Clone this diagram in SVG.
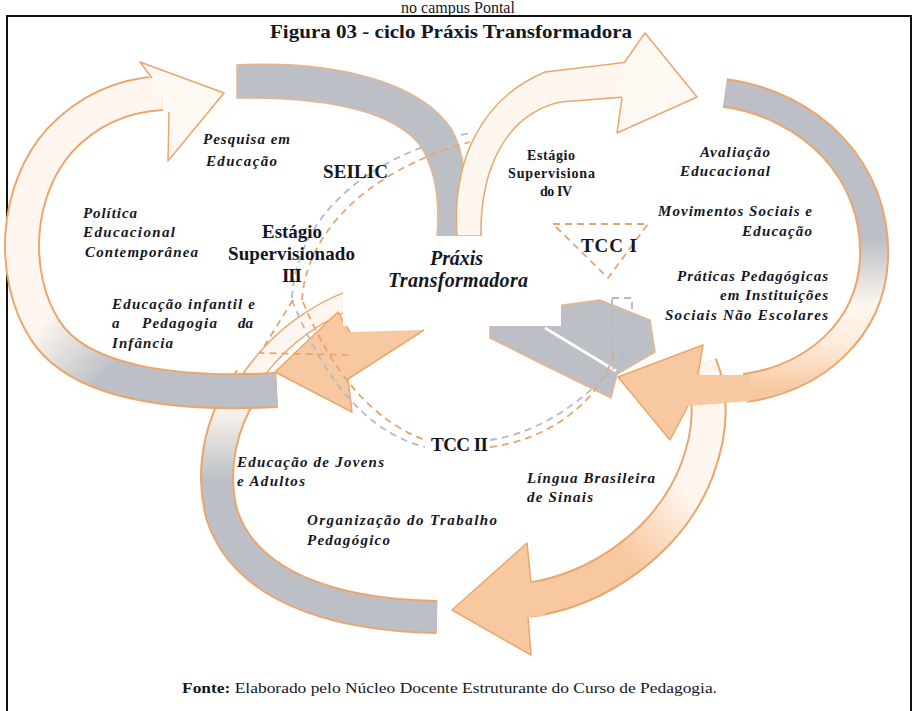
<svg xmlns="http://www.w3.org/2000/svg" width="915" height="711" viewBox="0 0 915 711">
<defs>
<linearGradient id="gA" gradientUnits="userSpaceOnUse" x1="200" y1="420" x2="60" y2="300"><stop offset="0" stop-color="#BCC0C6"/><stop offset="0.55" stop-color="#BCC0C6"/><stop offset="1" stop-color="#FFF7EF"/></linearGradient>
<linearGradient id="gBR" gradientUnits="userSpaceOnUse" x1="800" y1="90" x2="800" y2="390"><stop offset="0" stop-color="#BCC0C6"/><stop offset="0.5" stop-color="#BCC0C6"/><stop offset="0.72" stop-color="#FFF7EF"/><stop offset="0.85" stop-color="#FDEBDA"/><stop offset="1" stop-color="#F8C9A0"/></linearGradient>
<linearGradient id="gCR" gradientUnits="userSpaceOnUse" x1="530" y1="600" x2="705" y2="420"><stop offset="0" stop-color="#F8C9A0"/><stop offset="0.4" stop-color="#F8C9A0"/><stop offset="0.75" stop-color="#FFF7EF"/></linearGradient>
<linearGradient id="gCL" gradientUnits="userSpaceOnUse" x1="300" y1="480" x2="300" y2="405"><stop offset="0" stop-color="#BCC0C6"/><stop offset="1" stop-color="#FFF7EF"/></linearGradient>
</defs>
<style>
.ol{fill:none;stroke:#EAA66C;stroke-linecap:butt}
.grey{fill:#BCC0C6;stroke:#E9B58A;stroke-width:1.5}
.pale{fill:#FFF7EF;stroke:#EAA66C;stroke-width:1.5}
.org{fill:#F8C9A0;stroke:none}
.edge{fill:none;stroke:#EAA66C;stroke-width:1.5;stroke-linejoin:round}
.dg{fill:none;stroke:#B5BAC6;stroke-width:1.8;stroke-dasharray:7 5}
.do{fill:none;stroke:#E6A56E;stroke-width:1.8;stroke-dasharray:7 5}
.t{font-family:"Liberation Serif","Times New Roman",serif;fill:#16161f}
.lb{font-weight:bold;font-style:italic;font-size:15px}
.bu{font-weight:bold;font-size:19px}
.sm{font-weight:bold;font-size:14px}
</style>
<rect width="915" height="711" fill="#ffffff"/>
<text class="t" x="458" y="13" font-size="16" text-anchor="middle">no campus Pontal</text>
<rect x="7" y="16" width="904" height="720" fill="none" stroke="#111" stroke-width="2"/>
<text class="t" x="270" y="38" font-size="19" font-weight="bold" textLength="362" lengthAdjust="spacingAndGlyphs">Figura 03 - ciclo Práxis Transformadora</text>

<g id="loopC">
<path class="ol" stroke-width="34" d="M437,617 C330,615 245,585 222,515 C210,470 220,420 250,380"/>
<path fill="none" stroke="url(#gCL)" stroke-width="30" d="M437,617 C330,615 245,585 222,515 C210,470 220,420 250,380"/>
<path class="ol" stroke-width="20" d="M246,386 C270,348 305,318 350,300"/>
<path fill="none" stroke="#FFF7EF" stroke-width="17" d="M246,386 C270,348 305,318 350,300"/>
<path class="ol" stroke-width="36" d="M528,600 C600,590 670,540 697,470 C712,430 712,395 700,365"/>
<path fill="none" stroke="url(#gCR)" stroke-width="32" d="M528,600 C600,590 670,540 697,470 C712,430 712,395 700,365"/>
<polygon class="org" points="452,610 527,543 531,583 545,581 545,616 528,617 531,655"/>
<polyline class="edge" points="531,583 527,543 452,610 531,655 528,617"/>
</g>

<g id="loopA">
<path class="ol" stroke-width="36" d="M277,390 C180,395 80,385 45,330 C10,275 15,190 60,140 C90,108 125,95 162,93"/>
<path fill="none" stroke="url(#gA)" stroke-width="32" d="M277,390 C180,395 80,385 45,330 C10,275 15,190 60,140 C90,108 125,95 162,93"/>
<path class="grey" d="M237,65 C330,60 420,80 452,130 C468,160 467,200 460,236 L437,236 C440,200 436,170 420,145 C390,108 320,97 237,98 Z"/>
<polygon fill="#FFF9F4" points="140,62 224,93 168,161 170,110 150,78"/>
<polyline class="edge" points="152,78 140,62 224,93 168,161 169,112"/>
<polygon class="org" points="275,372 338,312 350,332 424,330 348,379 352,412"/>
<polyline class="edge" points="350,332 338,312 275,372 352,412 348,379 424,330"/>
</g>

<g id="loopB">
<path class="pale" d="M457,236 C452,165 478,100 545,72 L628,62 L624,97 L560,102 C505,115 480,170 481,236 Z"/>
<polygon fill="#FFF9F4" points="624,63 645,33 697,97 617,133 622,97"/>
<polyline class="edge" points="624,63 645,33 697,97 617,133 622,98"/>
<path class="ol" stroke-width="30" d="M725,93 C810,105 878,170 874,260 C870,330 815,378 745,388"/>
<path fill="none" stroke="url(#gBR)" stroke-width="26" d="M725,93 C810,105 878,170 874,260 C870,330 815,378 745,388"/>
<path class="grey" d="M490,323 L563,305 L600,300 L650,320 L655,352 L617,374 L611,398 L540,363 L490,338 Z"/>
<line x1="545" y1="328" x2="616" y2="371" stroke="#ffffff" stroke-width="3"/>
<polygon class="org" points="618,377 703,345 698,375 750,375 750,401 688,406 670,440"/>
<polyline class="edge" points="698,375 703,345 618,377 670,440 688,406"/>
</g>

<rect x="343" y="236" width="218" height="90" fill="#ffffff"/>

<g id="dashed">
<path class="dg" d="M292,298 C295,230 350,160 470,133"/>
<path class="do" d="M302,300 C306,236 362,172 470,142"/>
<path class="dg" d="M292,300 C320,370 360,430 425,447"/>
<path class="do" d="M303,302 C330,368 370,420 425,440"/>
<path class="do" d="M490,447 C550,440 600,400 614,354"/>
<path class="dg" d="M490,440 C545,432 590,396 626,354"/>
<rect class="dg" x="612" y="298" width="20" height="56"/>
<path class="do" d="M553,224 L648,224 L608,278 Z"/>
<path class="do" d="M293,300 L260,353 L350,355"/>
</g>

<g id="labels">
<text class="t lb" x="203" y="144" textLength="87">Pesquisa em</text>
<text class="t lb" x="206" y="166" textLength="71">Educação</text>
<text class="t bu" x="323" y="178" textLength="65">SEILIC</text>
<text class="t lb" x="83" y="218" textLength="54">Política</text>
<text class="t lb" x="83" y="237" textLength="92">Educacional</text>
<text class="t lb" x="85" y="257" textLength="113">Contemporânea</text>
<text class="t bu" x="262" y="238" textLength="60">Estágio</text>
<text class="t bu" x="228" y="260" textLength="127">Supervisionado</text>
<text class="t bu" x="282" y="282" textLength="20">III</text>
<text class="t lb" x="112" y="309" textLength="143">Educação infantil e</text>
<text class="t lb" x="112" y="328">a</text>
<text class="t lb" x="142" y="328" textLength="75">Pedagogia</text>
<text class="t lb" x="238" y="328">da</text>
<text class="t lb" x="112" y="348" textLength="61">Infância</text>
<text class="t" x="430" y="265" font-size="20" font-weight="bold" font-style="italic" textLength="53">Práxis</text>
<text class="t" x="388" y="287" font-size="20" font-weight="bold" font-style="italic" textLength="140">Transformadora</text>
<text class="t sm" x="527" y="160" textLength="48">Estágio</text>
<text class="t sm" x="508" y="178" textLength="87">Supervisiona</text>
<text class="t sm" x="540" y="196" textLength="32">do IV</text>
<text class="t lb" x="700" y="157" textLength="70">Avaliação</text>
<text class="t lb" x="680" y="176" textLength="90">Educacional</text>
<text class="t lb" x="658" y="216" textLength="154">Movimentos Sociais e</text>
<text class="t lb" x="742" y="236" textLength="70">Educação</text>
<text class="t bu" x="581" y="252" textLength="56">TCC I</text>
<text class="t lb" x="677" y="281" textLength="151">Práticas Pedagógicas</text>
<text class="t lb" x="720" y="300" textLength="108">em Instituições</text>
<text class="t lb" x="665" y="320" textLength="163">Sociais Não  Escolares</text>
<text class="t bu" x="431" y="451" textLength="57">TCC II</text>
<text class="t lb" x="237" y="467" textLength="147">Educação de Jovens</text>
<text class="t lb" x="237" y="486" textLength="68">e Adultos</text>
<text class="t lb" x="527" y="483" textLength="128">Língua Brasileira</text>
<text class="t lb" x="527" y="502" textLength="66">de Sinais</text>
<text class="t lb" x="307" y="525" textLength="190">Organização do Trabalho</text>
<text class="t lb" x="307" y="545" textLength="83">Pedagógico</text>
<text class="t" x="182" y="693" font-size="14" textLength="535" lengthAdjust="spacingAndGlyphs"><tspan font-weight="bold">Fonte:</tspan> Elaborado pelo Núcleo Docente Estruturante do Curso de Pedagogia.</text>
</g>
</svg>
